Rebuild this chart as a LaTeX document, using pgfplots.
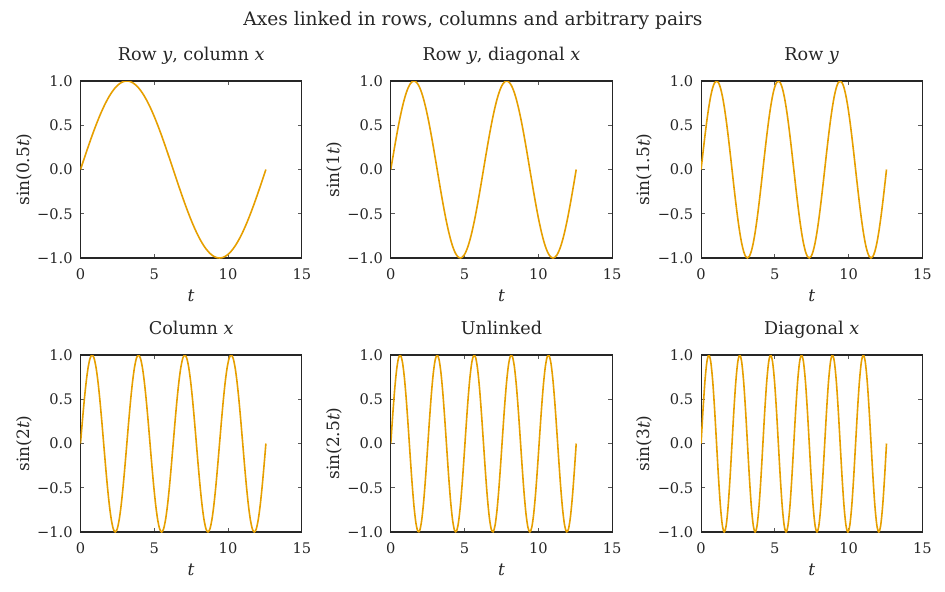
\documentclass[border=0pt]{standalone}
\usepackage{fontspec}
\setmainfont{DejaVu Serif}
\usepackage{pgfplots}
\pgfplotsset{compat=1.18}
\usepackage{pgfplotstable}
\usepgfplotslibrary{groupplots}
\usetikzlibrary{calc}

\definecolor{curve}{HTML}{E69F00}
\definecolor{frame}{HTML}{262626}

% t from 0 to 4pi in steps of pi/24; a..f = sin(0.5t), sin(t), sin(1.5t), sin(2t), sin(2.5t), sin(3t)
\pgfplotstableread{
t a b c d e f
0 0 0 0 0 0 0
0.1309 0.0654 0.1305 0.1951 0.2588 0.3214 0.3827
0.2618 0.1305 0.2588 0.3827 0.5 0.6088 0.7071
0.3927 0.1951 0.3827 0.5556 0.7071 0.8315 0.9239
0.5236 0.2588 0.5 0.7071 0.8660 0.9659 1
0.6545 0.3214 0.6088 0.8315 0.9659 0.9979 0.9239
0.7854 0.3827 0.7071 0.9239 1 0.9239 0.7071
0.9163 0.4423 0.7934 0.9808 0.9659 0.7518 0.3827
1.0472 0.5 0.8660 1 0.8660 0.5 0
1.1781 0.5556 0.9239 0.9808 0.7071 0.1951 -0.3827
1.3090 0.6088 0.9659 0.9239 0.5 -0.1305 -0.7071
1.4399 0.6593 0.9914 0.8315 0.2588 -0.4423 -0.9239
1.5708 0.7071 1 0.7071 0 -0.7071 -1
1.7017 0.7518 0.9914 0.5556 -0.2588 -0.8969 -0.9239
1.8326 0.7934 0.9659 0.3827 -0.5 -0.9914 -0.7071
1.9635 0.8315 0.9239 0.1951 -0.7071 -0.9808 -0.3827
2.0944 0.8660 0.8660 0 -0.8660 -0.8660 0
2.2253 0.8969 0.7934 -0.1951 -0.9659 -0.6593 0.3827
2.3562 0.9239 0.7071 -0.3827 -1 -0.3827 0.7071
2.4871 0.9469 0.6088 -0.5556 -0.9659 -0.0654 0.9239
2.6180 0.9659 0.5 -0.7071 -0.8660 0.2588 1
2.7489 0.9808 0.3827 -0.8315 -0.7071 0.5556 0.9239
2.8798 0.9914 0.2588 -0.9239 -0.5 0.7934 0.7071
3.0107 0.9979 0.1305 -0.9808 -0.2588 0.9469 0.3827
3.1416 1 0 -1 0 1 0
3.2725 0.9979 -0.1305 -0.9808 0.2588 0.9469 -0.3827
3.4034 0.9914 -0.2588 -0.9239 0.5 0.7934 -0.7071
3.5343 0.9808 -0.3827 -0.8315 0.7071 0.5556 -0.9239
3.6652 0.9659 -0.5 -0.7071 0.8660 0.2588 -1
3.7961 0.9469 -0.6088 -0.5556 0.9659 -0.0654 -0.9239
3.9270 0.9239 -0.7071 -0.3827 1 -0.3827 -0.7071
4.0579 0.8969 -0.7934 -0.1951 0.9659 -0.6593 -0.3827
4.1888 0.8660 -0.8660 0 0.8660 -0.8660 0
4.3197 0.8315 -0.9239 0.1951 0.7071 -0.9808 0.3827
4.4506 0.7934 -0.9659 0.3827 0.5 -0.9914 0.7071
4.5815 0.7518 -0.9914 0.5556 0.2588 -0.8969 0.9239
4.7124 0.7071 -1 0.7071 0 -0.7071 1
4.8433 0.6593 -0.9914 0.8315 -0.2588 -0.4423 0.9239
4.9742 0.6088 -0.9659 0.9239 -0.5 -0.1305 0.7071
5.1051 0.5556 -0.9239 0.9808 -0.7071 0.1951 0.3827
5.2360 0.5 -0.8660 1 -0.8660 0.5 0
5.3669 0.4423 -0.7934 0.9808 -0.9659 0.7518 -0.3827
5.4978 0.3827 -0.7071 0.9239 -1 0.9239 -0.7071
5.6287 0.3214 -0.6088 0.8315 -0.9659 0.9979 -0.9239
5.7596 0.2588 -0.5 0.7071 -0.8660 0.9659 -1
5.8905 0.1951 -0.3827 0.5556 -0.7071 0.8315 -0.9239
6.0214 0.1305 -0.2588 0.3827 -0.5 0.6088 -0.7071
6.1523 0.0654 -0.1305 0.1951 -0.2588 0.3214 -0.3827
6.2832 0 0 0 0 0 0
6.4141 -0.0654 0.1305 -0.1951 0.2588 -0.3214 0.3827
6.5450 -0.1305 0.2588 -0.3827 0.5 -0.6088 0.7071
6.6759 -0.1951 0.3827 -0.5556 0.7071 -0.8315 0.9239
6.8068 -0.2588 0.5 -0.7071 0.8660 -0.9659 1
6.9377 -0.3214 0.6088 -0.8315 0.9659 -0.9979 0.9239
7.0686 -0.3827 0.7071 -0.9239 1 -0.9239 0.7071
7.1995 -0.4423 0.7934 -0.9808 0.9659 -0.7518 0.3827
7.3304 -0.5 0.8660 -1 0.8660 -0.5 0
7.4613 -0.5556 0.9239 -0.9808 0.7071 -0.1951 -0.3827
7.5922 -0.6088 0.9659 -0.9239 0.5 0.1305 -0.7071
7.7231 -0.6593 0.9914 -0.8315 0.2588 0.4423 -0.9239
7.8540 -0.7071 1 -0.7071 0 0.7071 -1
7.9849 -0.7518 0.9914 -0.5556 -0.2588 0.8969 -0.9239
8.1158 -0.7934 0.9659 -0.3827 -0.5 0.9914 -0.7071
8.2467 -0.8315 0.9239 -0.1951 -0.7071 0.9808 -0.3827
8.3776 -0.8660 0.8660 0 -0.8660 0.8660 0
8.5085 -0.8969 0.7934 0.1951 -0.9659 0.6593 0.3827
8.6394 -0.9239 0.7071 0.3827 -1 0.3827 0.7071
8.7703 -0.9469 0.6088 0.5556 -0.9659 0.0654 0.9239
8.9012 -0.9659 0.5 0.7071 -0.8660 -0.2588 1
9.0321 -0.9808 0.3827 0.8315 -0.7071 -0.5556 0.9239
9.1630 -0.9914 0.2588 0.9239 -0.5 -0.7934 0.7071
9.2939 -0.9979 0.1305 0.9808 -0.2588 -0.9469 0.3827
9.4248 -1 0 1 0 -1 0
9.5557 -0.9979 -0.1305 0.9808 0.2588 -0.9469 -0.3827
9.6866 -0.9914 -0.2588 0.9239 0.5 -0.7934 -0.7071
9.8175 -0.9808 -0.3827 0.8315 0.7071 -0.5556 -0.9239
9.9484 -0.9659 -0.5 0.7071 0.8660 -0.2588 -1
10.0793 -0.9469 -0.6088 0.5556 0.9659 0.0654 -0.9239
10.2102 -0.9239 -0.7071 0.3827 1 0.3827 -0.7071
10.3411 -0.8969 -0.7934 0.1951 0.9659 0.6593 -0.3827
10.4720 -0.8660 -0.8660 0 0.8660 0.8660 0
10.6029 -0.8315 -0.9239 -0.1951 0.7071 0.9808 0.3827
10.7338 -0.7934 -0.9659 -0.3827 0.5 0.9914 0.7071
10.8647 -0.7518 -0.9914 -0.5556 0.2588 0.8969 0.9239
10.9956 -0.7071 -1 -0.7071 0 0.7071 1
11.1265 -0.6593 -0.9914 -0.8315 -0.2588 0.4423 0.9239
11.2574 -0.6088 -0.9659 -0.9239 -0.5 0.1305 0.7071
11.3883 -0.5556 -0.9239 -0.9808 -0.7071 -0.1951 0.3827
11.5192 -0.5 -0.8660 -1 -0.8660 -0.5 0
11.6501 -0.4423 -0.7934 -0.9808 -0.9659 -0.7518 -0.3827
11.7810 -0.3827 -0.7071 -0.9239 -1 -0.9239 -0.7071
11.9119 -0.3214 -0.6088 -0.8315 -0.9659 -0.9979 -0.9239
12.0428 -0.2588 -0.5 -0.7071 -0.8660 -0.9659 -1
12.1737 -0.1951 -0.3827 -0.5556 -0.7071 -0.8315 -0.9239
12.3046 -0.1305 -0.2588 -0.3827 -0.5 -0.6088 -0.7071
12.4355 -0.0654 -0.1305 -0.1951 -0.2588 -0.3214 -0.3827
12.5664 0 0 0 0 0 0
}\sines

\pgfplotsset{
    panel/.style={
        scale only axis,
        width=110.65pt, height=88.5pt,
        xmin=0, xmax=15, ymin=-1, ymax=1,
        xtick={0,5,10,15}, xticklabels={0,5,10,15},
        ytick={-1,-0.5,0,0.5,1},
        yticklabels={−1.0,−0.5,0.0,0.5,1.0},
        tick align=inside,
        major tick length=2pt,
        axis line style={frame, line width=0.6pt},
        tick style={black!65, line width=0.5pt},
        ticklabel style={font=\fontsize{7.3}{8}\selectfont, text=frame},
        xticklabel style={anchor=base, inner sep=0pt, yshift=-10.5pt},
        yticklabel style={anchor=east, inner sep=0pt, xshift=-3.75pt},
        title style={at={(axis description cs:0.5,1.0508)}, anchor=base,
            font=\fontsize{8.8}{10}\selectfont, text=frame},
        xlabel={\textit{t}},
        xlabel style={at={(axis description cs:0.5,-0.2455)}, anchor=base,
            font=\fontsize{8.5}{10}\selectfont, text=frame},
        ylabel style={at={(axis description cs:-0.2553,0.5)}, anchor=center,
            font=\fontsize{8.5}{10}\selectfont, text=frame},
    },
    wave/.style={curve, line width=0.8pt, smooth, no markers},
}

\begin{document}
\begin{tikzpicture}
\begin{groupplot}[
    group style={group size=3 by 2, group name=G,
        horizontal sep=44.5pt, vertical sep=48.5pt},
    panel,
]
\nextgroupplot[title={Row \textit{y}, column \textit{x}}, ylabel={sin(0.5\textit{t})}]
\addplot[wave] table[x=t, y=a] {\sines};

\nextgroupplot[title={Row \textit{y}, diagonal \textit{x}}, ylabel={sin(1\textit{t})}]
\addplot[wave] table[x=t, y=b] {\sines};

\nextgroupplot[title={Row \textit{y}}, ylabel={sin(1.5\textit{t})}]
\addplot[wave] table[x=t, y=c] {\sines};

\nextgroupplot[title={Column \textit{x}}, ylabel={sin(2\textit{t})}]
\addplot[wave] table[x=t, y=d] {\sines};

\nextgroupplot[title={Unlinked}, ylabel={sin(2.5\textit{t})}]
\addplot[wave] table[x=t, y=e] {\sines};

\nextgroupplot[title={Diagonal \textit{x}}, ylabel={sin(3\textit{t})}]
\addplot[wave] table[x=t, y=f] {\sines};
\end{groupplot}

\node[anchor=base, font=\fontsize{9.3}{11}\selectfont, text=frame]
    at ($(G c1r1.north west)+(196.25pt,28pt)$)
    {Axes linked in rows, columns and arbitrary pairs};

\pgfresetboundingbox
\useasboundingbox ($(G c1r1.north west)+(-40.25pt,40.5pt)$)
    rectangle ($(G c1r1.north west)+(432.25pt,-255pt)$);
\end{tikzpicture}
\end{document}
